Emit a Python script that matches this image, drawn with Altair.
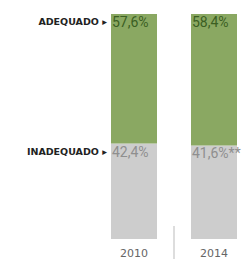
import altair as alt
import pandas as pd

years = ["2010", "2010", "2014", "2014"]
categories = ["INADEQUADO", "ADEQUADO", "INADEQUADO", "ADEQUADO"]
values = [42.4, 57.6, 41.6, 58.4]
value_labels = ["42,4%", "57,6%", "41,6%**", "58,4%"]
order = [0, 1, 0, 1]
text_colors = ["#8f8f8f", "#3b5f22", "#8f8f8f", "#3b5f22"]

df = pd.DataFrame({"year": years, "cat": categories, "value": values,
                   "label": value_labels, "order": order, "tcolor": text_colors})
df["top"] = df.groupby("year")["value"].cumsum()

side_labels = pd.DataFrame({"text": ["ADEQUADO ▸", "INADEQUADO ▸"],
                            "y": [100.0, 42.4]})

xscale = alt.Scale(domain=["2010", "2014"], paddingInner=0.425, paddingOuter=0)
yscale = alt.Scale(domain=[0, 100], nice=False)
colors = alt.Scale(domain=["ADEQUADO", "INADEQUADO"], range=["#8aa862", "#cdcdcd"])

bars = alt.Chart(df).mark_bar().encode(
    x=alt.X("year:N", scale=xscale, title=None,
            axis=alt.Axis(domain=False, ticks=False, labelAngle=0, labelPadding=8,
                          labelFont="DejaVu Sans", labelFontSize=11, labelColor="#666666")),
    y=alt.Y("value:Q", stack="zero", scale=yscale, axis=None),
    color=alt.Color("cat:N", scale=colors, legend=None),
    order=alt.Order("order:Q"),
)

texts = alt.Chart(df).mark_text(align="left", baseline="top", dx=-22, dy=2,
                                 font="Liberation Sans Narrow, Roboto", fontSize=14).encode(
    x=alt.X("year:N", scale=xscale),
    y=alt.Y("top:Q", scale=yscale, stack=None),
    text="label:N",
    color=alt.Color("tcolor:N", scale=None, legend=None),
)

side = alt.Chart(side_labels).mark_text(align="right", baseline="middle", dy=8,
                                        font="DejaVu Sans", fontWeight="bold",
                                        fontSize=9.5, color="#222222").encode(
    x=alt.value(-4),
    y=alt.Y("y:Q", scale=yscale),
    text="text:N",
)

sep = alt.Chart(pd.DataFrame({"a": [0]})).mark_rule(color="#bbbbbb", strokeWidth=1).encode(
    x=alt.value(63), y=alt.value(212), y2=alt.value(246)
)

chart = alt.layer(bars, texts, side, sep).properties(
    width=126, height=225,
    padding={"left": 103, "top": 6, "right": 6, "bottom": 20},
    autosize=alt.AutoSizeParams(type="none"),
).configure_view(stroke=None)

chart.save("out.html", embed_options={"renderer": "svg", "actions": False})
